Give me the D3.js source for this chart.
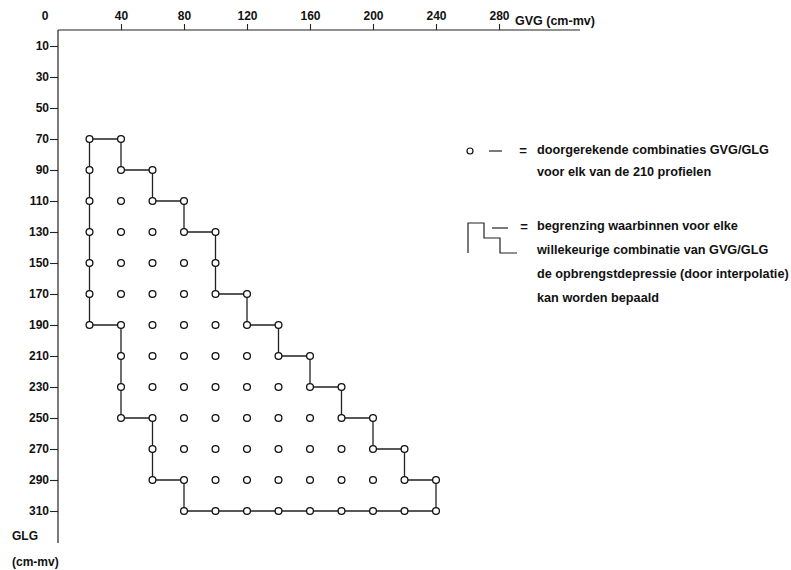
<!DOCTYPE html>
<html>
<head>
<meta charset="utf-8">
<script src="https://cdn.jsdelivr.net/npm/d3@7"></script>
<style>
  body { margin: 0; background: #fff; }
  text { font-family: "Liberation Sans", Arial, sans-serif; fill: #111; }
</style>
</head>
<body>
<script>
// tick labels
var gvgTicks = [40, 80, 120, 160, 200, 240, 280];
var glgTicks = [10, 30, 50, 70, 90, 110, 130, 150, 170, 190, 210, 230, 250, 270, 290, 310];

// computed GVG/GLG combinations, one row per GLG value
var glgRows = [70, 90, 110, 130, 150, 170, 190, 210, 230, 250, 270, 290, 310];
var gvgFrom = [20, 20, 20, 20, 20, 20, 20, 40, 40, 40, 60, 60, 80];
var gvgTo   = [40, 60, 80, 100, 100, 120, 140, 160, 180, 200, 220, 240, 240];

// boundary of the interpolation area [GVG, GLG]
var boundary = [
  [20, 70], [40, 70], [40, 90], [60, 90], [60, 110], [80, 110], [80, 130],
  [100, 130], [100, 170], [120, 170], [120, 190], [140, 190], [140, 210],
  [160, 210], [160, 230], [180, 230], [180, 250], [200, 250], [200, 270],
  [220, 270], [220, 290], [240, 290], [240, 310], [80, 310], [80, 290],
  [60, 290], [60, 250], [40, 250], [40, 190], [20, 190], [20, 70]
];

var legend1 = ["doorgerekende combinaties GVG/GLG", "voor elk van de 210 profielen"];
var legend2 = ["begrenzing waarbinnen voor elke", "willekeurige combinatie van GVG/GLG",
               "de opbrengstdepressie (door interpolatie)", "kan worden bepaald"];

var W = 791, H = 570;
var svg = d3.select("body").append("svg")
    .attr("width", W)
    .attr("height", H);

var x = d3.scaleLinear().domain([0, 280]).range([58, 499]);
var y = d3.scaleLinear().domain([0, 320]).range([30.5, 526.5]);

// x axis on top
var xg = svg.append("g").attr("transform", "translate(0,30)")
    .call(d3.axisTop(x).tickValues(gvgTicks).tickSize(6).tickPadding(4));
xg.select(".domain").remove();
xg.selectAll("line").attr("stroke", "#222").attr("stroke-width", 1.1);
xg.selectAll("text").attr("font-size", 12).attr("font-weight", "bold").attr("fill", "#111")
    .attr("font-family", "Liberation Sans, Arial, sans-serif");
svg.append("line").attr("x1", 58).attr("x2", 580).attr("y1", 30).attr("y2", 30)
    .attr("stroke", "#222").attr("stroke-width", 1.2);
svg.append("text").attr("x", x(0) - 13).attr("y", 19.5).attr("text-anchor", "middle")
    .attr("font-size", 12).attr("font-weight", "bold").text("0");
svg.append("text").attr("x", 515).attr("y", 25)
    .attr("font-size", 12.5).attr("font-weight", "bold").text("GVG (cm-mv)");

// y axis on left
var yg = svg.append("g").attr("transform", "translate(58,0)")
    .call(d3.axisLeft(y).tickValues(glgTicks).tickSize(8).tickPadding(1));
yg.select(".domain").remove();
yg.selectAll("line").attr("stroke", "#222").attr("stroke-width", 1.1);
yg.selectAll("text").attr("font-size", 12).attr("font-weight", "bold").attr("fill", "#111")
    .attr("font-family", "Liberation Sans, Arial, sans-serif");
svg.append("line").attr("x1", 58).attr("x2", 58).attr("y1", 30).attr("y2", 543)
    .attr("stroke", "#222").attr("stroke-width", 1.2);
svg.append("text").attr("x", 12).attr("y", 540)
    .attr("font-size", 12).attr("font-weight", "bold").text("GLG");
svg.append("text").attr("x", 12).attr("y", 566)
    .attr("font-size", 12).attr("font-weight", "bold").text("(cm-mv)");

// boundary
var line = d3.line().x(function(d) { return x(d[0]); }).y(function(d) { return y(d[1]); });
svg.append("path").datum(boundary)
    .attr("d", line)
    .attr("fill", "none")
    .attr("stroke", "#222")
    .attr("stroke-width", 1.3);

// points
var points = [];
for (var i = 0; i < glgRows.length; i++) {
  for (var v = gvgFrom[i]; v <= gvgTo[i]; v += 20) {
    points.push([v, glgRows[i]]);
  }
}
svg.selectAll(".pt").data(points).enter().append("circle")
    .attr("class", "pt")
    .attr("cx", function(d) { return x(d[0]); })
    .attr("cy", function(d) { return y(d[1]); })
    .attr("r", 3.4)
    .attr("fill", "#fff")
    .attr("stroke", "#111")
    .attr("stroke-width", 1.3);

// legend 1
svg.append("circle").attr("cx", 470).attr("cy", 151).attr("r", 3)
    .attr("fill", "#fff").attr("stroke", "#111").attr("stroke-width", 1.2);
svg.append("line").attr("x1", 489).attr("x2", 502).attr("y1", 151).attr("y2", 151)
    .attr("stroke", "#222").attr("stroke-width", 1.2);
svg.append("text").attr("x", 523).attr("y", 155).attr("text-anchor", "middle")
    .attr("font-size", 13).attr("font-weight", "bold").text("=");
svg.selectAll(".lg1").data(legend1).enter().append("text")
    .attr("class", "lg1")
    .attr("x", 537)
    .attr("y", function(d, i) { return 154 + i * 22; })
    .attr("font-size", 12.7).attr("font-weight", "bold")
    .text(function(d) { return d; });

// legend 2
svg.append("path")
    .attr("d", "M468,253V223H484V238H500V253H517")
    .attr("fill", "none").attr("stroke", "#222").attr("stroke-width", 1.2);
svg.append("line").attr("x1", 492).attr("x2", 508).attr("y1", 228).attr("y2", 228)
    .attr("stroke", "#222").attr("stroke-width", 1.2);
svg.append("text").attr("x", 524).attr("y", 231).attr("text-anchor", "middle")
    .attr("font-size", 13).attr("font-weight", "bold").text("=");
svg.selectAll(".lg2").data(legend2).enter().append("text")
    .attr("class", "lg2")
    .attr("x", 537)
    .attr("y", function(d, i) { return 230 + i * 24; })
    .attr("font-size", 12.7).attr("font-weight", "bold")
    .text(function(d) { return d; });
</script>
</body>
</html>
